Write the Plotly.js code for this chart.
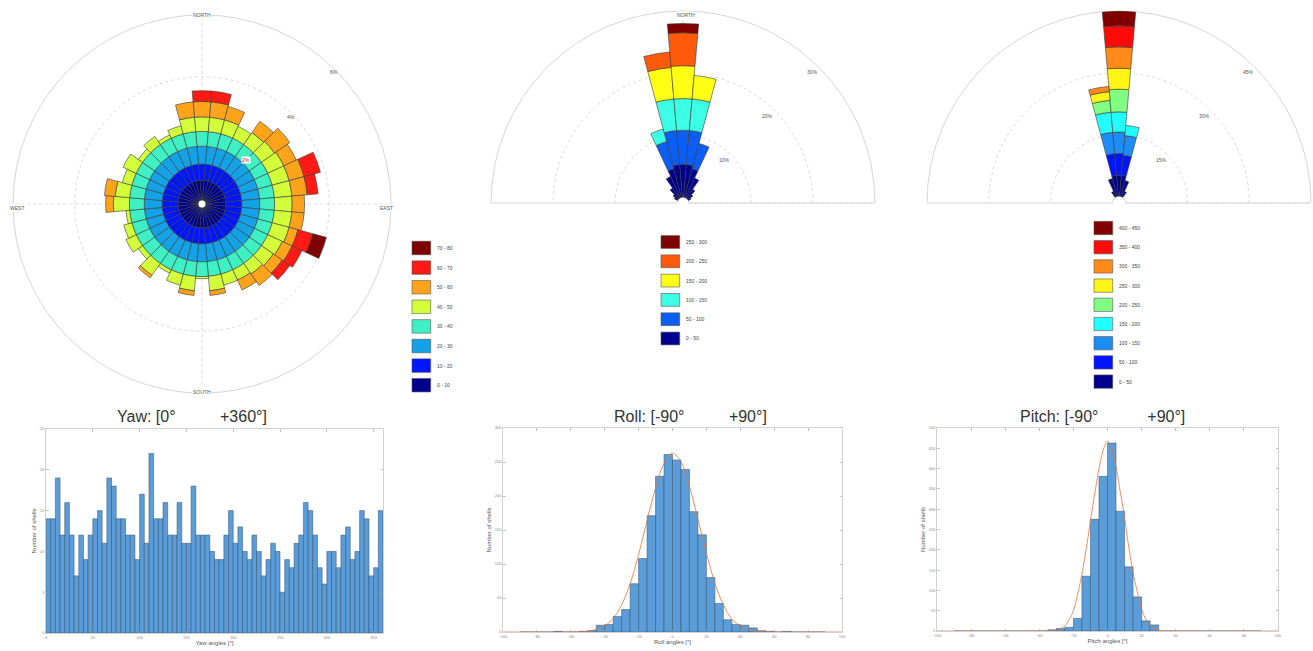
<!DOCTYPE html>
<html>
<head>
<meta charset="utf-8">
<script src="https://cdn.plot.ly/plotly-3.0.1.min.js"></script>
<style>html,body{margin:0;padding:0;background:#fff;}#chart{width:1313px;height:651px;}</style>
</head>
<body>
<div id="chart"></div>
<script>
// ================= DATA =================
// --- Yaw rose (percent of shells per 10° sector, stacked by class) ---
const yawDirections = [0,10,20,30,40,50,60,70,80,90,100,110,120,130,140,150,160,170,180,190,200,210,220,230,240,250,260,270,280,290,300,310,320,330,340,350];
const yawClasses = ['0 - 10','10 - 20','20 - 30','30 - 40','40 - 50','50 - 60','60 - 70','70 - 80'];
const yawColors = ['#00008F','#0016FF','#14A2E6','#3EF0C4','#D2FF3A','#FFA31A','#FF1A14','#7F0000'];
const yaw0_10  = [0.65,0.65,0.65,0.65,0.65,0.65,0.65,0.65,0.65,0.65,0.65,0.65,0.65,0.65,0.65,0.65,0.65,0.65,0.65,0.65,0.65,0.65,0.65,0.65,0.65,0.65,0.65,0.65,0.65,0.65,0.65,0.65,0.65,0.65,0.65,0.65];
const yaw10_20 = [0.52,0.52,0.52,0.52,0.52,0.52,0.52,0.52,0.52,0.52,0.52,0.52,0.52,0.52,0.52,0.52,0.52,0.52,0.52,0.52,0.52,0.52,0.52,0.52,0.52,0.52,0.52,0.52,0.52,0.52,0.52,0.52,0.52,0.52,0.52,0.52];
const yaw20_30 = [0.58,0.58,0.58,0.58,0.58,0.58,0.58,0.58,0.58,0.58,0.58,0.58,0.58,0.58,0.58,0.58,0.58,0.58,0.58,0.58,0.58,0.58,0.58,0.58,0.58,0.58,0.58,0.58,0.58,0.58,0.58,0.58,0.58,0.58,0.58,0.58];
const yaw30_40 = [0.48,0.48,0.48,0.48,0.48,0.48,0.48,0.48,0.48,0.48,0.48,0.48,0.48,0.48,0.48,0.48,0.48,0.48,0.48,0.48,0.48,0.48,0.48,0.48,0.48,0.48,0.48,0.48,0.48,0.48,0.48,0.48,0.48,0.48,0.48,0.48];
const yaw40_50 = [0.47,0.47,0.47,0.42,0.47,0.52,0.57,0.57,0.57,0.57,0.57,0.57,0.52,0.47,0.42,0.37,0.37,0.47,0.07,0.47,0.37,0.12,0.47,0.17,0.37,0.27,0.12,0.52,0.47,0.32,0.47,0.17,0.32,0.12,0.27,0.47];
const yaw50_60 = [0.50,0.50,0.45,0,0.45,0.60,0.45,0.50,0.50,0.40,0.40,0.30,0.35,0.35,0.45,0.35,0,0.15,0,0.15,0,0,0.10,0,0,0,0,0.25,0.35,0,0,0,0,0,0,0.50];
const yaw60_70 = [0.35,0.35,0,0,0,0,0,0.55,0.35,0,0,0.50,0.35,0.30,0,0,0,0,0,0,0,0,0,0,0,0,0,0,0,0,0,0,0,0,0,0];
const yaw70_80 = [0,0,0,0,0,0,0,0,0,0,0,0.45,0,0,0,0,0,0,0,0,0,0,0,0,0,0,0,0,0,0,0,0,0,0,0,0];
const yawRadialTicks = ['2%','4%','6%'];

// --- Roll rose ---
const rollDirections = [300,310,320,330,340,350,0,10,20,30,40,50,60];
const rollClasses = ['0 - 50','50 - 100','100 - 150','150 - 200','200 - 250','250 - 300'];
const rollColors = ['#00008F','#0A5EF5','#3CFFE6','#FFFF14','#FF5A0A','#800000'];
const roll0_50    = [0.6,1.0,2.0,3.8,4.8,5.3,5.3,5.3,4.8,3.5,1.8,1.0,0.5];
const roll50_100  = [0,0,0,0,4.5,5.5,5.5,5.5,4.2,0,0,0,0];
const roll100_150 = [0,0,0,0,2.1,5.1,5.1,5.1,0,0,0,0,0];
const roll150_200 = [0,0,0,0,0,5.1,5.3,3.8,0,0,0,0,0];
const roll200_250 = [0,0,0,0,0,2.5,5.3,0,0,0,0,0,0];
const roll250_300 = [0,0,0,0,0,0,1.5,0,0,0,0,0,0];
const rollRadialTicks = ['10%','20%','30%'];

// --- Pitch rose ---
const pitchDirections = [330,340,350,0,10,20,30];
const pitchClasses = ['0 - 50','50 - 100','100 - 150','150 - 200','200 - 250','250 - 300','300 - 350','350 - 400','400 - 450'];
const pitchColors = ['#00008F','#0014FF','#1E8CF5','#22FFFF','#80FF80','#FFF514','#FF8A1A','#FF0A0A','#800000'];
const pitch0_50    = [1.5,4.5,5.1,5.1,5.1,4.0,1.5];
const pitch50_100  = [0,0,5.3,5.3,4.9,0,0];
const pitch100_150 = [0,0,5.2,5.2,4.8,0,0];
const pitch150_200 = [0,0,4.9,4.9,2.5,0,0];
const pitch200_250 = [0,0,2.9,5.5,0,0,0];
const pitch250_300 = [0,0,2.1,5.1,0,0,0];
const pitch300_350 = [0,0,1.3,5.2,0,0,0];
const pitch350_400 = [0,0,0,5.1,0,0,0];
const pitch400_450 = [0,0,0,3.6,0,0,0];
const pitchRadialTicks = ['15%','30%','45%'];

// --- Histograms (counts per 5° bin) ---
const yawCounts = [14,14,19,12,16,12,7,12,9,12, 14,15,11,19,18,14,14,12,12,9, 17,11,22,14,14,16,12,12,16,11, 11,18,12,12,12,10,9,9,12,15, 11,13,10,9,12,10,7,9,11,10, 5,9,8,11,12,16,15,12,8,6, 10,10,8,12,13,9,10,15,14,7, 8,15];
const rollCounts = [0,0,0,0,1,0,0,1,2,10, 11,23,33,71,108,171,229,261,253,239, 177,143,80,42,18,11,10,6,2,1, 0,1,0,0,0,0];
const pitchCounts = [0,0,0,0,0,0,0,0,0,0, 0,3,6,9,31,135,275,381,463,295, 158,84,25,15,0,0,0,0,0,0, 0,0,0,0,0,0];
// fitted normal curves
const rollFitX = [-100,-60,-50,-45,-40,-35,-30,-25,-20,-15,-10,-5,0,5,10,15,20,25,30,35,40,45,50,60,100];
const rollFitY = [0,0,1,4,9,20,40,71,114,164,212,248,263,250,214,166,116,72,40,19,9,4,1,0,0];
const pitchFitX = [-100,-40,-30,-25,-22,-20,-17,-15,-12,-10,-7,-5,-2,0,2,5,7,10,12,15,17,20,22,25,30,40,100];
const pitchFitY = [0,0,2,12,32,50,100,140,215,272,350,400,452,468,455,405,355,280,220,145,105,55,33,13,2,0,0];

const yawTicks = [0,50,100,150,200,250,300,350];
const angleTicks = [-100,-80,-60,-40,-20,0,20,40,60,80,100];

// ================= BUILD =================
const W = 1313, H = 651;
const px = x => x / W;
const py = y => 1 - y / H;
const FONT = 'Liberation Sans, Arial, sans-serif';
const BIN = 5;

function roseTraces(dirs, segs, names, colors, subplot) {
  return segs.map((seg, k) => {
    const th = [], r = [];
    seg.forEach((v, i) => { if (v > 0) { th.push(dirs[i]); r.push(v); } });
    return {type:'barpolar', subplot: subplot, theta: th, r: r, width: 10, name: names[k],
      marker:{color: colors[k], line:{color:'#3a3a3a', width:0.6}}, showlegend:false, hoverinfo:'skip'};
  });
}

const traces = []
  .concat(roseTraces(yawDirections, [yaw0_10,yaw10_20,yaw20_30,yaw30_40,yaw40_50,yaw50_60,yaw60_70,yaw70_80], yawClasses, yawColors, 'polar'))
  .concat(roseTraces(rollDirections, [roll0_50,roll50_100,roll100_150,roll150_200,roll200_250,roll250_300], rollClasses, rollColors, 'polar2'))
  .concat(roseTraces(pitchDirections, [pitch0_50,pitch50_100,pitch100_150,pitch150_200,pitch200_250,pitch250_300,pitch300_350,pitch350_400,pitch400_450], pitchClasses, pitchColors, 'polar3'));

const histBar = (counts, start, xa, ya) => ({
  type:'bar', x: counts.map((_, i) => start + BIN * (i + 0.5)), y: counts, width: BIN,
  xaxis: xa, yaxis: ya, showlegend:false, hoverinfo:'skip',
  marker:{color:'#5B9DD8', line:{color:'#2f4f6e', width:0.5}}
});
traces.push(histBar(yawCounts, 0, 'x', 'y'));
traces.push(histBar(rollCounts, -90, 'x2', 'y2'));
traces.push(histBar(pitchCounts, -90, 'x3', 'y3'));
traces.push({type:'scatter', mode:'lines', x: rollFitX, y: rollFitY, xaxis:'x2', yaxis:'y2', line:{color:'#E4743A', width:0.8, shape:'spline'}, showlegend:false, hoverinfo:'skip'});
traces.push({type:'scatter', mode:'lines', x: pitchFitX, y: pitchFitY, xaxis:'x3', yaxis:'y3', line:{color:'#E4743A', width:0.8, shape:'spline'}, showlegend:false, hoverinfo:'skip'});

function polarLayout(cx, cy, R, sector, rmax, rticks, hole, angTicks) {
  const dom = sector ? {x:[px(cx-R), px(cx+R)], y:[py(cy), py(cy-R)]}
                     : {x:[px(cx-R), px(cx+R)], y:[py(cy+R), py(cy-R)]};
  const p = {
    domain: dom, bgcolor:'#ffffff', hole: hole, barmode:'stack', bargap:0,
    angularaxis:{rotation:90, direction:'clockwise', tickvals: angTicks, showticklabels:false, ticks:'',
      gridcolor:'#d9d9d9', griddash:'dot', gridwidth:1, showline:true, linecolor:'#d6d6d6', linewidth:1, layer:'below traces'},
    radialaxis:{range:[0, rmax], tickvals: rticks, angle:45, showline:false, ticks:'',
      showticklabels: false, gridcolor:'#d9d9d9', griddash:'dot', gridwidth:1, layer:'below traces'}
  };
  if (sector) p.sector = [0, 180];
  return p;
}

function axisX(dom, anchor, range, tickvals, title) {
  return {domain: dom, anchor: anchor, range: range, tickvals: tickvals, ticks:'inside', ticklen:2.5, tickwidth:0.6,
    tickcolor:'#9a9a9a', showline:true, linecolor:'#c6c6c6', linewidth:0.8, mirror:'ticks', showgrid:false, zeroline:false,
    tickfont:{size:4, color:'#888', family:FONT}, automargin:false, fixedrange:true,
    title:{text:title, font:{size:6, color:'#555', family:FONT}, standoff:2}};
}
function axisY(dom, anchor, range, dtick, title) {
  return {domain: dom, anchor: anchor, range: range, tick0:0, dtick: dtick, ticks:'inside', ticklen:2.5, tickwidth:0.6,
    tickcolor:'#9a9a9a', showline:true, linecolor:'#c6c6c6', linewidth:0.8, mirror:'ticks', showgrid:false, zeroline:false,
    tickfont:{size:4, color:'#888', family:FONT}, automargin:false, fixedrange:true,
    title:{text:title, font:{size:6, color:'#555', family:FONT}, standoff:2}};
}

const shapes = [];
const annotations = [];
function legendBlock(names, colors, x0, yTop, step, w, h, textX) {
  const n = names.length;
  for (let j = 0; j < n; j++) {
    const k = n - 1 - j;
    const yc = yTop + j * step;
    shapes.push({type:'rect', xref:'paper', yref:'paper', x0: px(x0), x1: px(x0 + w), y0: py(yc + h/2), y1: py(yc - h/2),
      fillcolor: colors[k], line:{color:'#555', width:0.6}});
    annotations.push({text: names[k], xref:'paper', yref:'paper', x: px(textX), y: py(yc), xanchor:'left', yanchor:'middle',
      showarrow:false, font:{size:5, color:'#444', family:FONT}});
  }
}
legendBlock(yawClasses, yawColors, 412, 248, 19.6, 18.7, 13.5, 435);
legendBlock(rollClasses, rollColors, 661, 242, 19.3, 18.7, 12.8, 684);
legendBlock(pitchClasses, pitchColors, 1094, 228, 19.2, 18.7, 13.3, 1117);

function txt(t, x, y, size, color, bg) {
  const a = {text: t, xref:'paper', yref:'paper', x: px(x), y: py(y), xanchor:'center', yanchor:'middle', showarrow:false,
    font:{size: size, color: color, family: FONT}};
  if (bg) { a.bgcolor = bg; a.borderpad = 0; }
  annotations.push(a);
}
// compass labels
txt('NORTH', 202, 15, 5, '#555', '#ffffff');
txt('EAST', 387, 208, 5, '#555', '#ffffff');
txt('SOUTH', 202, 392, 5, '#555', '#ffffff');
txt('WEST', 17, 208, 5, '#555', '#ffffff');
txt('NORTH', 686, 15, 5, '#555', '#ffffff');
// radial labels (at 45°)
txt(yawRadialTicks[0], 246, 160, 5, '#c0102a', '#ffffff');
txt(yawRadialTicks[1], 291, 117, 5, '#555');
txt(yawRadialTicks[2], 334, 72, 5, '#555');
txt(rollRadialTicks[0], 724, 160, 5, '#555');
txt(rollRadialTicks[1], 767, 116, 5, '#555');
txt(rollRadialTicks[2], 812, 72, 5, '#555');
txt(pitchRadialTicks[0], 1161, 160, 5, '#555');
txt(pitchRadialTicks[1], 1204, 116, 5, '#555');
txt(pitchRadialTicks[2], 1248, 72, 5, '#555');
// subplot titles
const gap = n => '\u00a0'.repeat(n);
txt('Yaw: [0°' + gap(10) + '+360°]', 192, 416, 16, '#333');
txt('Roll: [-90°' + gap(10) + '+90°]', 691, 416, 16, '#333');
txt('Pitch: [-90°' + gap(11) + '+90°]', 1102, 416, 16, '#333');

const layout = {
  width: W, height: H, autosize:false, margin:{l:0, r:0, t:0, b:0},
  paper_bgcolor:'#ffffff', plot_bgcolor:'#ffffff', showlegend:false, bargap:0,
  font:{family:FONT},
  polar:  polarLayout(202, 204, 189, false, 6, [2,4,6], 0.02, [0,90,180,270]),
  polar2: polarLayout(683, 203, 192, true, 30, [10,20,30], 0.03, [270,0,90]),
  polar3: polarLayout(1119, 203, 192, true, 45, [15,30,45], 0.035, [270,0,90]),
  xaxis:  axisX([px(46), px(383)], 'y', [0, 360], yawTicks, 'Yaw angles [°]'),
  yaxis:  axisY([py(633), py(429)], 'x', [0, 25], 5, 'Number of shells'),
  xaxis2: axisX([px(503), px(842)], 'y2', [-100, 100], angleTicks, 'Roll angles [°]'),
  yaxis2: axisY([py(632), py(428)], 'x2', [0, 300], 50, 'Number of shells'),
  xaxis3: axisX([px(937), px(1278)], 'y3', [-100, 100], angleTicks, 'Pitch angles [°]'),
  yaxis3: axisY([py(631), py(428)], 'x3', [0, 500], 50, 'Number of shells'),
  shapes: shapes,
  annotations: annotations
};

Plotly.newPlot('chart', traces, layout, {staticPlot:true, displayModeBar:false});
</script>
</body>
</html>
